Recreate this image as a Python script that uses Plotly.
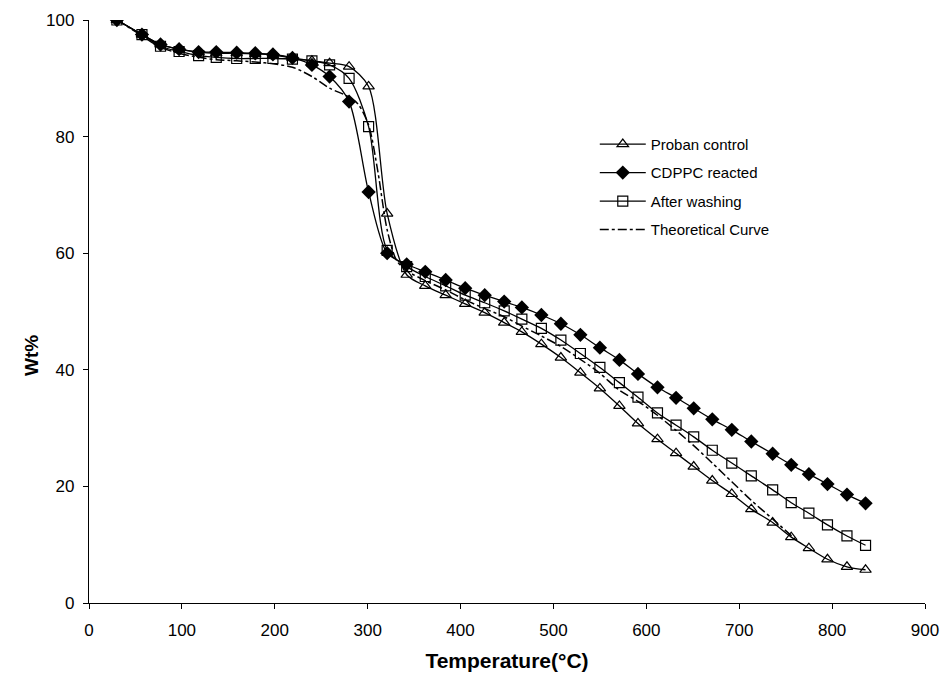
import plotly.graph_objects as go

temperature = [30, 57, 77, 97, 118, 137, 159, 179, 198, 219, 240, 259, 280, 301, 321,
               342, 362, 384, 405, 426, 447, 466, 487, 508, 529, 550, 571, 591, 612,
               632, 651, 671, 692, 713, 736, 756, 775, 795, 816, 836]

proban_control = [100, 97.5, 95.8, 95.0, 94.5, 94.3, 94.3, 94.2, 94.0, 93.5, 93.0, 92.6,
                  92.0, 88.6, 66.8, 56.3, 54.4, 52.8, 51.3, 49.8, 48.1, 46.5, 44.4, 42.1,
                  39.5, 36.8, 33.8, 30.8, 28.1, 25.7, 23.4, 21.0, 18.7, 16.1, 13.8, 11.3,
                  9.4, 7.5, 6.2, 5.7]

cdppc_reacted = [100, 97.5, 95.8, 95.0, 94.5, 94.5, 94.4, 94.3, 94.1, 93.5, 92.3, 90.3,
                 86.0, 70.5, 60.0, 58.1, 56.8, 55.4, 54.0, 52.8, 51.7, 50.7, 49.4, 47.9,
                 46.0, 43.8, 41.7, 39.3, 37.0, 35.2, 33.4, 31.5, 29.7, 27.7, 25.6, 23.7,
                 22.1, 20.4, 18.6, 17.1]

after_washing = [100, 97.5, 95.5, 94.6, 93.9, 93.6, 93.4, 93.4, 93.4, 93.3, 93.0, 92.3,
                 90.0, 81.7, 60.5, 57.7, 56.0, 54.4, 52.8, 51.5, 50.1, 48.7, 47.1, 45.1,
                 42.8, 40.4, 37.8, 35.3, 32.6, 30.5, 28.5, 26.2, 24.0, 21.8, 19.4, 17.2,
                 15.4, 13.4, 11.5, 9.9]

theory_temperature = [30, 57, 77, 97, 118, 137, 159, 179, 198, 219, 240, 259, 280, 290,
                      301, 311, 321, 331, 342, 362, 384, 405, 426, 447, 466, 487, 508,
                      529, 550, 571, 591, 612, 632, 651, 671, 692, 713, 736, 760]
theoretical_curve = [100, 97.3, 95.3, 94.3, 93.6, 93.2, 93.0, 92.8, 92.5, 91.9, 90.3, 88.3,
                     86.8, 85.5, 82.0, 74.0, 64.0, 58.8, 57.0, 55.3, 53.7, 52.0, 50.5, 49.1,
                     47.5, 45.8, 44.0, 41.8, 39.4, 36.5, 34.6, 32.2, 29.6, 27.0, 24.0, 20.8,
                     17.6, 14.4, 11.0]

x_ticks = [0, 100, 200, 300, 400, 500, 600, 700, 800, 900]
y_ticks = [0, 20, 40, 60, 80, 100]

FONT = "Liberation Sans, Arial, sans-serif"

fig = go.Figure()
line_style = dict(color="black", width=1.3, shape="spline", smoothing=0.8)

fig.add_trace(go.Scatter(
    x=temperature, y=proban_control, name="Proban control", mode="lines+markers",
    line=line_style, legendgroup="a",
    marker=dict(symbol="triangle-up-open", size=10, color="black", line=dict(width=1.2))))
fig.add_trace(go.Scatter(
    x=temperature, y=cdppc_reacted, name="CDPPC reacted", mode="lines+markers",
    line=line_style, legendgroup="b",
    marker=dict(symbol="diamond", size=11, color="black")))
fig.add_trace(go.Scatter(
    x=temperature, y=after_washing, name="After washing", mode="lines+markers",
    line=line_style, legendgroup="c",
    marker=dict(symbol="square-open", size=10, color="black", line=dict(width=1.2))))
fig.add_trace(go.Scatter(
    x=theory_temperature, y=theoretical_curve, name="Theoretical Curve", mode="lines",
    line=dict(color="black", width=1.5, dash="dashdot", shape="spline", smoothing=0.8),
    legendgroup="d"))

axis_font = dict(family=FONT, size=17, color="black")
fig.update_layout(
    width=942, height=681,
    margin=dict(l=89, r=17, t=20, b=78, autoexpand=False),
    paper_bgcolor="white", plot_bgcolor="white",
    font=dict(family=FONT, color="black"),
    showlegend=True,
    legend=dict(x=0.605, y=0.815, xanchor="left", yanchor="top",
                font=dict(size=15, color="black"), bgcolor="rgba(0,0,0,0)",
                traceorder="grouped", tracegroupgap=6, itemwidth=46),
    xaxis=dict(range=[0, 900], tickvals=x_ticks, ticks="outside", ticklen=5,
               ticklabelstandoff=6, automargin=False,
               showline=True, linecolor="black", linewidth=1.3, showgrid=False,
               zeroline=False, tickfont=axis_font, tickcolor="black",
               title=dict(text="Temperature(°C)", standoff=14,
                          font=dict(size=21, family=FONT, weight="bold"))),
    yaxis=dict(range=[0, 100], tickvals=y_ticks, ticks="outside", ticklen=5,
               ticklabelstandoff=5, automargin=False,
               showline=True, linecolor="black", linewidth=1.3, showgrid=False,
               zeroline=False, tickfont=axis_font, tickcolor="black"),
    annotations=[dict(text="Wt%", xref="paper", yref="paper", x=-0.068, y=0.424,
                      textangle=-90, showarrow=False, xanchor="center", yanchor="middle",
                      font=dict(size=19, family=FONT, weight="bold", color="black"))],
)

fig.write_html("out.html", config={"displayModeBar": False},
               post_script=["document.body.style.margin='0';"])
